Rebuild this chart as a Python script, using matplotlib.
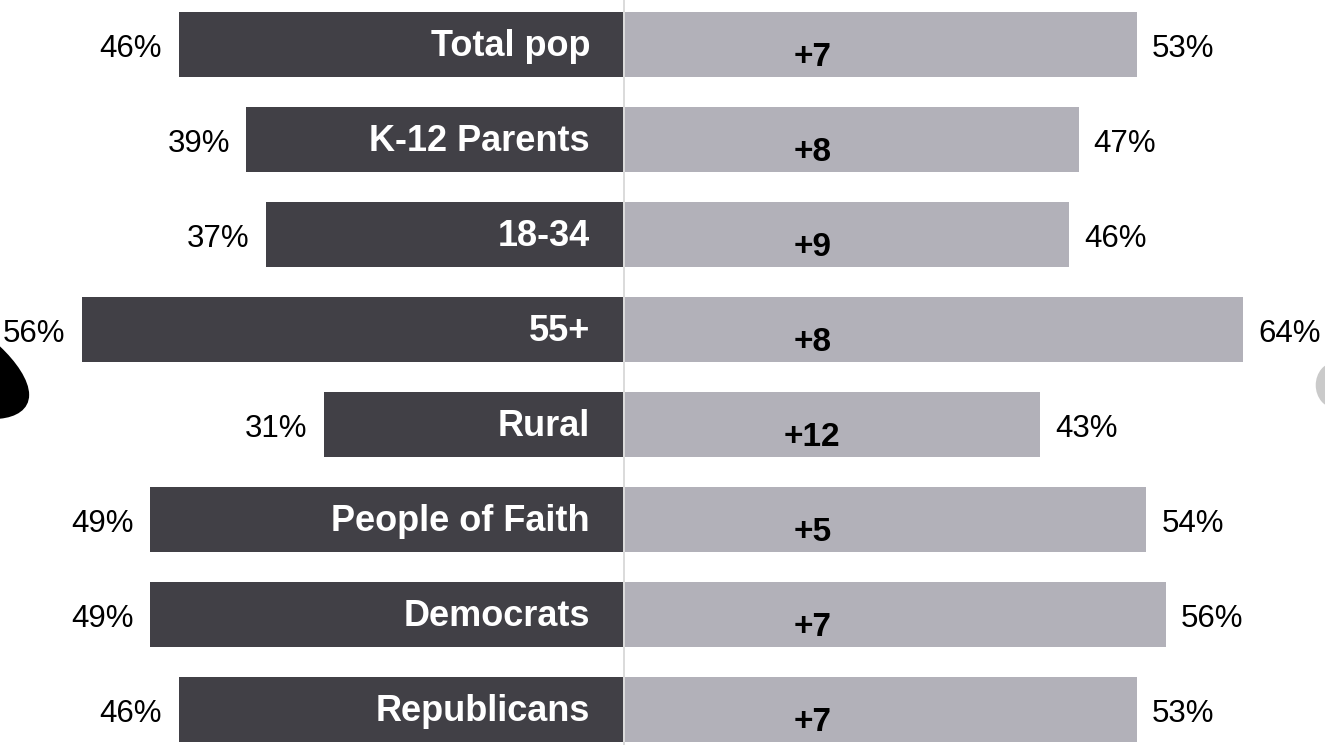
import matplotlib.pyplot as plt
from matplotlib.path import Path
from matplotlib.patches import PathPatch, Ellipse

plt.rcParams['font.family'] = ['Liberation Sans', 'DejaVu Sans']

groups = ["Total pop", "K-12 Parents", "18-34", "55+", "Rural",
          "People of Faith", "Democrats", "Republicans"]
left_vals = [46, 39, 37, 56, 31, 49, 49, 46]
right_vals = [53, 47, 46, 64, 43, 54, 56, 53]
diff_labels = ["+7", "+8", "+9", "+8", "+12", "+5", "+7", "+7"]

dark = "#414046"
light = "#b2b1b9"

fig = plt.figure(figsize=(13.25, 7.45), dpi=100)
ax = fig.add_axes([0, 0, 1, 1])

y = list(range(len(groups)))
ax.barh(y, [-v for v in left_vals], height=0.685, color=dark, left=-0.1)
ax.barh(y, right_vals, height=0.685, color=light, left=0.1)
ax.axvline(0, color="#d4d4d4", lw=1.2, zorder=3)

for i, (g, lv, rv, d) in enumerate(zip(groups, left_vals, right_vals, diff_labels)):
    ax.text(-3.5, i + 0.121, g, ha="right", va="baseline", color="white",
            fontsize=26, fontweight="bold")
    ax.text(-lv - 1.8, i + 0.132, f"{lv}%", ha="right", va="baseline",
            fontsize=22.5, color="black")
    ax.text(rv + 1.65, i + 0.132, f"{rv}%", ha="left", va="baseline",
            fontsize=22.5, color="black")
    ax.text(19.5, i + 0.23, d, ha="center", va="baseline",
            fontsize=24, fontweight="bold", color="black")

ax.set_xlim(-64.6, 72.6)
ax.set_ylim(7.374, -0.468)
ax.axis("off")

# partial shapes at the side edges
verts = [(0, 0.535), (0.012, 0.515), (0.022, 0.49), (0.022, 0.47),
         (0.022, 0.45), (0.012, 0.44), (0, 0.438), (0, 0.535)]
codes = [Path.MOVETO, Path.CURVE4, Path.CURVE4, Path.CURVE4,
         Path.CURVE4, Path.CURVE4, Path.CURVE4, Path.CLOSEPOLY]
fig.patches.append(PathPatch(Path(verts, codes), facecolor="black",
                             edgecolor="none", transform=fig.transFigure))
fig.patches.append(Ellipse((1.008, 0.483), 0.03, 0.062, facecolor="#cacaca",
                           edgecolor="none", transform=fig.transFigure))

fig.savefig("out.png", dpi=100)
